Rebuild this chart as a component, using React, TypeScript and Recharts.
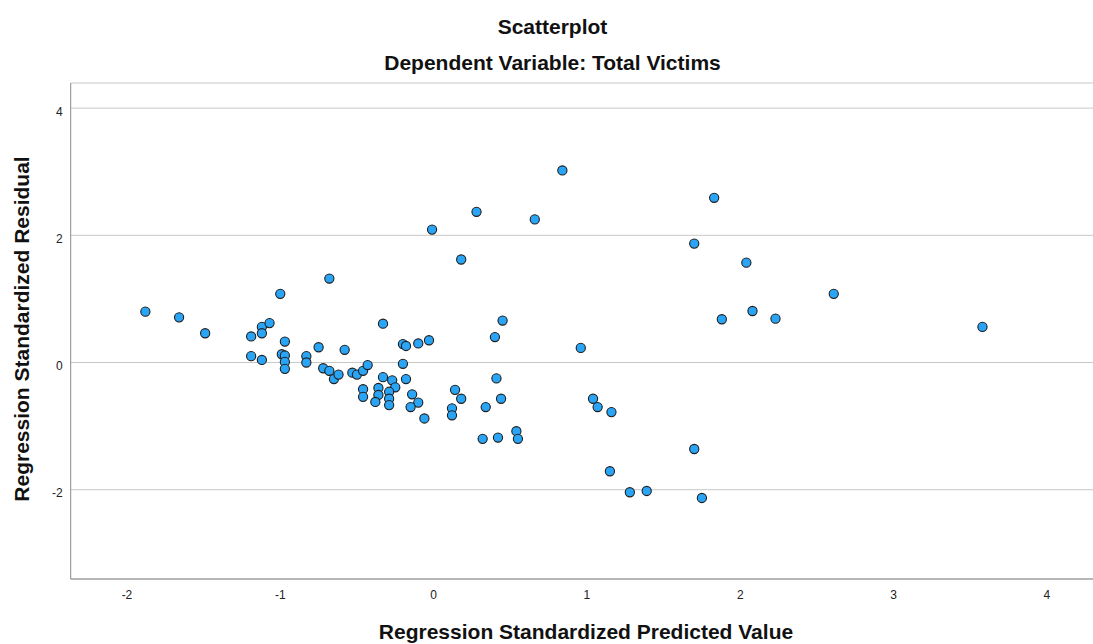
import { ScatterChart, Scatter, XAxis, YAxis, CartesianGrid } from "recharts";

// regression standardized predicted value (x) and residual (y)
const predicted = [
  -1.88, -1.66, -1.49, -1.19, -1.12, -1.12, -1.07, -1.0, -1.19, -1.12,
  -0.97, -0.99, -0.97, -0.97, -0.97, -0.83, -0.83, -0.75, -0.68, -0.72,
  -0.68, -0.65, -0.62, -0.58, -0.53, -0.5, -0.46, -0.43, -0.33, -0.33,
  -0.27, -0.25, -0.46, -0.46, -0.36, -0.36, -0.38, -0.29, -0.29, -0.29,
  -0.2, -0.18, -0.1, -0.03, -0.2, -0.18, -0.14, -0.1, -0.15, -0.06,
  0.14, 0.18, 0.12, 0.12, -0.01, 0.28, 0.18, 0.66, 0.84, 1.7,
  1.83, 2.04, 1.88, 2.08, 2.23, 2.61, 3.58, 0.45, 0.4, 0.96,
  0.41, 0.44, 0.34, 0.32, 0.42, 0.54, 0.55, 1.04, 1.07, 1.16,
  1.7, 1.15, 1.28, 1.39, 1.75,
];
const residual = [
  0.8, 0.71, 0.46, 0.41, 0.56, 0.46, 0.62, 1.08, 0.1, 0.04,
  0.33, 0.13, 0.11, 0.01, -0.1, 0.1, 0.0, 0.24, 1.32, -0.09,
  -0.13, -0.26, -0.19, 0.2, -0.16, -0.19, -0.13, -0.04, 0.61, -0.23,
  -0.28, -0.39, -0.42, -0.54, -0.4, -0.51, -0.62, -0.46, -0.57, -0.67,
  0.29, 0.26, 0.3, 0.35, -0.02, -0.26, -0.5, -0.63, -0.7, -0.88,
  -0.43, -0.57, -0.72, -0.83, 2.09, 2.37, 1.62, 2.25, 3.02, 1.87,
  2.59, 1.57, 0.68, 0.81, 0.69, 1.08, 0.56, 0.66, 0.4, 0.23,
  -0.25, -0.57, -0.7, -1.2, -1.18, -1.08, -1.2, -0.57, -0.7, -0.78,
  -1.36, -1.71, -2.04, -2.02, -2.13,
];

const xTicks = [-2, -1, 0, 1, 2, 3, 4];
const yTicks = [-2, 0, 2, 4];

const chartTitle = "Scatterplot";
const chartSubtitle = "Dependent Variable: Total Victims";
const xTitle = "Regression Standardized Predicted Value";
const yTitle = "Regression Standardized Residual";

const X_DOMAIN = [-2.367, 4.301];
const Y_DOMAIN = [-3.404, 4.395];

const W = 1093;
const H = 644;
const FONT = '"Liberation Sans", Arial, sans-serif';

const points = predicted.map((x, i) => ({ x, y: residual[i] }));

const Dot = (props: any) => {
  const { cx, cy } = props;
  if (cx == null || cy == null) return null;
  return <circle cx={cx} cy={cy} r={4.6} fill="#2aa4f4" stroke="#1e1e1e" strokeWidth={1.1} />;
};

const XTick = (props: any) => {
  const { x, y, payload } = props;
  return (
    <text x={x} y={y + 20} textAnchor="middle" fontSize={12} fontFamily={FONT} fill="#222">
      {payload.value}
    </text>
  );
};

const YTick = (props: any) => {
  const { x, y, payload } = props;
  return (
    <text x={x - 8} y={y + 7.5} textAnchor="end" fontSize={12} fontFamily={FONT} fill="#222">
      {payload.value}
    </text>
  );
};

export default function App() {
  return (
    <div style={{ position: "absolute", left: 0, top: 0, width: W, height: H, background: "#fff" }}>
      <svg width={W} height={H} style={{ position: "absolute", left: 0, top: 0 }}>
        <text x={552.5} y={33.5} textAnchor="middle" fontSize={21} fontWeight="bold" fontFamily={FONT} fill="#111">
          {chartTitle}
        </text>
        <text x={552.5} y={70} textAnchor="middle" fontSize={21} fontWeight="bold" fontFamily={FONT} fill="#111">
          {chartSubtitle}
        </text>
      </svg>
      <div style={{ position: "absolute", left: 0, top: 0 }}>
        <ScatterChart width={W} height={H} margin={{ top: 83, right: 0, bottom: 0, left: 0 }}>
          <CartesianGrid vertical={false} stroke="#c8c8c8" />
          <XAxis
            type="number"
            dataKey="x"
            domain={X_DOMAIN}
            allowDataOverflow
            ticks={xTicks}
            height={65}
            axisLine={{ stroke: "#8a8a8a" }}
            tickLine={false}
            tickSize={0}
            tickMargin={0}
            tick={<XTick />}
            label={{
              content: () => (
                <text x={586} y={639} textAnchor="middle" fontSize={21} fontWeight="bold" fontFamily={FONT} fill="#111">
                  {xTitle}
                </text>
              ),
            }}
          />
          <YAxis
            type="number"
            dataKey="y"
            domain={Y_DOMAIN}
            allowDataOverflow
            ticks={yTicks}
            width={70.7}
            axisLine={{ stroke: "#8a8a8a" }}
            tickLine={false}
            tickSize={0}
            tickMargin={0}
            tick={<YTick />}
            label={{
              content: () => (
                <text
                  x={28.5}
                  y={329}
                  transform="rotate(-90, 28.5, 329)"
                  textAnchor="middle"
                  fontSize={21}
                  fontWeight="bold"
                  fontFamily={FONT}
                  fill="#111"
                >
                  {yTitle}
                </text>
              ),
            }}
          />
          <Scatter data={points} shape={<Dot />} isAnimationActive={false} />
        </ScatterChart>
      </div>
    </div>
  );
}
